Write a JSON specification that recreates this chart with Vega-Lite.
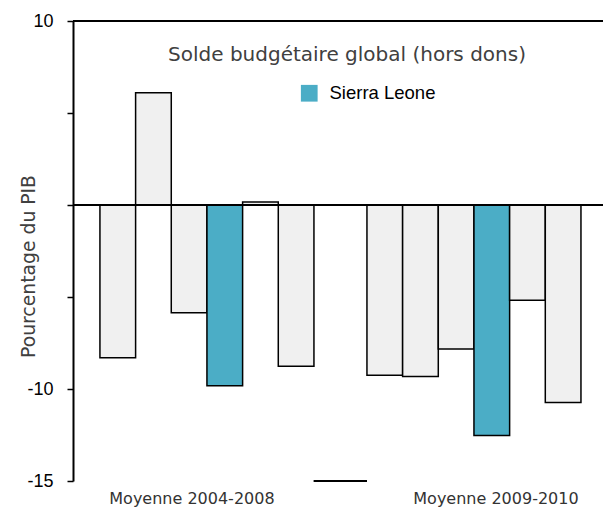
{
  "$schema": "https://vega.github.io/schema/vega-lite/v6.json",
  "autosize": "none",
  "width": 530,
  "height": 460,
  "padding": {"left": 73, "top": 21, "right": 0, "bottom": 28},
  "background": "white",
  "config": {"view": {"stroke": null}},
  "title": {
    "text": "Solde budgétaire global (hors dons)",
    "anchor": "middle",
    "orient": "top",
    "offset": -69,
    "baseline": "alphabetic",
    "dx": 9,
    "font": "DejaVu Sans",
    "fontSize": 20,
    "fontWeight": "normal",
    "color": "#404040"
  },
  "data": {
    "values": [
      {"periode": "Moyenne  2004-2008", "pays": "Pays 1", "serie": "Autres", "valeur": -8.3},
      {"periode": "Moyenne  2004-2008", "pays": "Pays 2", "serie": "Autres", "valeur": 6.1},
      {"periode": "Moyenne  2004-2008", "pays": "Pays 3", "serie": "Autres", "valeur": -5.85},
      {"periode": "Moyenne  2004-2008", "pays": "Sierra Leone", "serie": "Sierra Leone", "valeur": -9.82},
      {"periode": "Moyenne  2004-2008", "pays": "Pays 5", "serie": "Autres", "valeur": 0.16},
      {"periode": "Moyenne  2004-2008", "pays": "Pays 6", "serie": "Autres", "valeur": -8.77},
      {"periode": "Moyenne  2009-2010", "pays": "Pays 1", "serie": "Autres", "valeur": -9.25},
      {"periode": "Moyenne  2009-2010", "pays": "Pays 2", "serie": "Autres", "valeur": -9.32},
      {"periode": "Moyenne  2009-2010", "pays": "Pays 3", "serie": "Autres", "valeur": -7.83},
      {"periode": "Moyenne  2009-2010", "pays": "Sierra Leone", "serie": "Sierra Leone", "valeur": -12.53},
      {"periode": "Moyenne  2009-2010", "pays": "Pays 5", "serie": "Autres", "valeur": -5.18},
      {"periode": "Moyenne  2009-2010", "pays": "Pays 6", "serie": "Autres", "valeur": -10.74}
    ]
  },
  "layer": [
    {
      "mark": {"type": "bar", "stroke": "black", "strokeWidth": 1.5},
      "encoding": {
        "x": {
          "field": "periode",
          "type": "nominal",
          "sort": null,
          "scale": {"paddingInner": 0.1985, "paddingOuter": 0.0917, "align": 0.55},
          "axis": {
            "title": null,
            "labelAngle": 0,
            "domain": false,
            "ticks": false,
            "labelFont": "DejaVu Sans",
            "labelFontSize": 16,
            "labelColor": "#333333",
            "labelPadding": 9,
            "labelOffset": {"condition": {"test": "indexof(datum.value, '2004') >= 0", "value": -15}, "value": 22}
          }
        },
        "xOffset": {
          "field": "pays",
          "type": "nominal",
          "scale": {"domain": ["Pays 1", "Pays 2", "Pays 3", "Sierra Leone", "Pays 5", "Pays 6"], "paddingInner": 0, "paddingOuter": 0}
        },
        "y": {
          "field": "valeur",
          "type": "quantitative",
          "scale": {"domain": [-15, 10], "nice": false, "zero": false},
          "axis": {
            "title": "Pourcentage du PIB",
            "titleFont": "DejaVu Sans",
            "titleFontSize": 18.8,
            "titleFontWeight": "normal",
            "titleColor": "#404040",
            "titleX": -35,
            "titleY": 245,
            "titleBaseline": "bottom",
            "values": [10, 5, 0, -5, -10, -15],
            "labelExpr": "datum.value == 10 ? '10' : datum.value == -10 ? '-10' : datum.value == -15 ? '-15' : ''",
            "labelFont": "Liberation Sans",
            "labelFontSize": 18,
            "labelColor": "black",
            "labelPadding": 14,
            "tickSize": 6,
            "tickColor": "black",
            "tickWidth": 1.5,
            "domainColor": "black",
            "domainWidth": 2,
            "grid": false
          }
        },
        "color": {
          "field": "serie",
          "type": "nominal",
          "scale": {"domain": ["Sierra Leone", "Autres"], "range": ["#4BADC6", "#F0F0F0"]},
          "legend": {
            "title": null,
            "values": ["Sierra Leone"],
            "orient": "none",
            "legendX": 227,
            "legendY": 63,
            "padding": 0,
            "symbolType": "square",
            "symbolSize": 280,
            "symbolStrokeWidth": 0,
            "symbolOpacity": 1,
            "labelFont": "Liberation Sans",
            "labelFontSize": 18.5,
            "labelColor": "black",
            "labelOffset": 11
          }
        }
      }
    },
    {
      "mark": {"type": "rule", "color": "black", "strokeWidth": 1.5},
      "encoding": {"y": {"datum": 0}}
    },
    {
      "mark": {"type": "rule", "color": "black", "strokeWidth": 2},
      "encoding": {"y": {"datum": 10}}
    },
    {
      "mark": {"type": "rule", "color": "black", "strokeWidth": 1.5},
      "encoding": {
        "y": {"datum": -15},
        "x": {"datum": "Moyenne  2004-2008", "type": "nominal", "bandPosition": 1},
        "x2": {"datum": "Moyenne  2009-2010", "bandPosition": 0}
      }
    }
  ]
}
